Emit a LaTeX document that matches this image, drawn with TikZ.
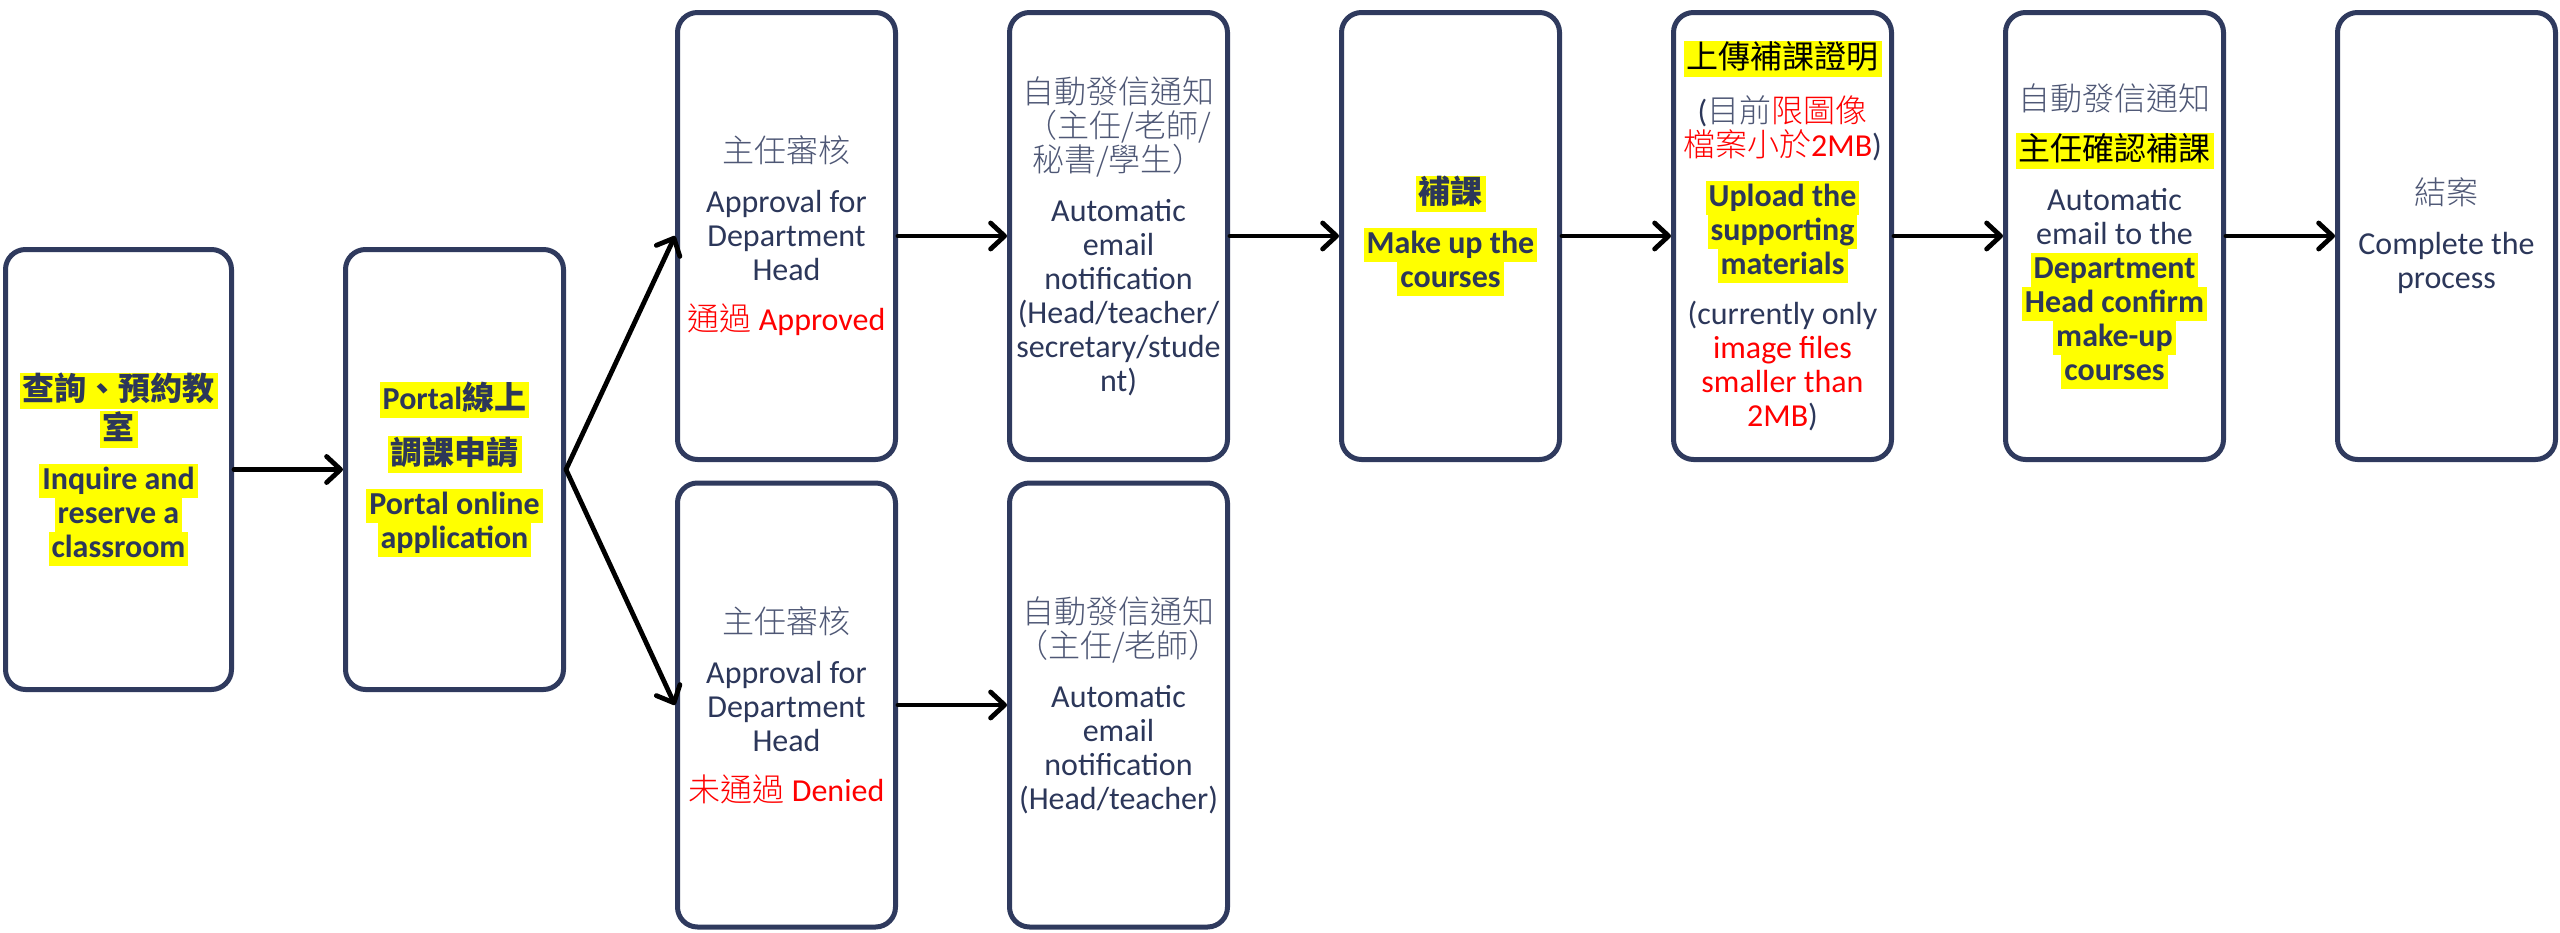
\documentclass[tikz,border=0pt]{standalone}
\usepackage{fontspec}
\setmainfont{Carlito}
\newfontfamily\cjk{Noto Sans CJK TC}
\newfontfamily\cjklt{Noto Sans CJK TC Light}
\usetikzlibrary{arrows.meta}

\definecolor{boxnavy}{RGB}{47,58,94}
\definecolor{txtnavy}{RGB}{44,55,90}
\definecolor{zhgray}{RGB}{78,87,117}
\definecolor{hlyellow}{RGB}{255,255,0}
\definecolor{zhred}{RGB}{255,0,0}

\newcommand{\hl}[1]{{\setlength{\fboxsep}{0pt}\colorbox{hlyellow}{\rule[-4.3pt]{0pt}{17pt}\kern1.5pt#1\kern1.5pt}}}
\newcommand{\hlb}[1]{\hl{\bfseries #1}}
\newcommand{\zh}[1]{{\cjklt #1}}
\newcommand{\zhm}[1]{{\cjk #1}}
\newcommand{\zhb}[1]{{\cjk\bfseries #1}}
\newcommand{\zhg}[1]{{\cjklt\color{zhgray}#1}}

\tikzset{
  stepbox/.style={draw=boxnavy, line width=2.5pt, rounded corners=10pt, fill=white,
    minimum width=109pt, minimum height=223.5pt, inner sep=1pt, align=center,
    text=txtnavy, font=\fontsize{16pt}{17pt}\selectfont},
  flow/.style={draw=black, line width=2.4pt, line cap=round,
    -{Straight Barb[length=7pt,width=13pt,round]}}
}

\begin{document}
\begin{tikzpicture}[x=0.5pt, y=-0.5pt]
			%%%%% START %%%%%
			\useasboundingbox (0,0) rectangle (2560,932);
			
			\node[stepbox, minimum width=113pt, minimum height=220pt] (inq) at (118.5,469.5)
				{\hl{\zhb{查詢、預約教}}\\\hl{\zhb{室}}\\[8pt]
				 \hlb{Inquire and}\\\hlb{reserve a}\\\hlb{classroom}};
			\node[stepbox, minimum height=220pt] (portal) at (454.5,469.5)
				{\hl{\bfseries Portal\zhb{線上}}\\[8pt]\hl{\zhb{調課申請}}\\[8pt]
				 \hlb{Portal online}\\\hlb{application}};
			
			\node[stepbox] (headok) at (786.5,236)
				{\zhg{主任審核}\\[8pt]Approval for\\Department\\Head\\[8pt]
				 \textcolor{zhred}{\zh{通過} Approved}};
			\node[stepbox] (mailall) at (1118.5,236)
				{\zhg{自動發信通知}\\\zhg{（主任/老師/}\\\zhg{秘書/學生）}\\[8pt]
				 Automatic\\email\\notification\\(Head/teacher/\\secretary/stude\\nt)};
			\node[stepbox] (makeup) at (1450.5,236)
				{\hl{\zhb{補課}}\\[8pt]\hlb{Make up the}\\\hlb{courses}};
			\node[stepbox] (upload) at (1782.5,236)
				{\hl{\color{black}\zhm{上傳補課證明}}\\[8pt]
				 (\zhg{目前}\textcolor{zhred}{\zh{限圖像}}\\
				 \textcolor{zhred}{\zh{檔案小於}2MB})\\[8pt]
				 \hlb{Upload the}\\\hlb{supporting}\\\hlb{materials}\\[8pt]
				 (currently only\\\textcolor{zhred}{image files}\\
				 \textcolor{zhred}{smaller than}\\\textcolor{zhred}{2MB})};
			\node[stepbox] (mailhead) at (2114.5,236)
				{\zhg{自動發信通知}\\[8pt]\hl{\color{black}\zhm{主任確認補課}}\\[8pt]
				 Automatic\\email to the\\\hlb{Department}\\\hlb{Head confirm}\\
				 \hlb{make-up}\\\hlb{courses}};
			\node[stepbox] (close) at (2446.5,236)
				{\zhg{結案}\\[8pt]Complete the\\process};
			
			\node[stepbox, minimum height=222pt] (headno) at (786.5,705)
				{\zhg{主任審核}\\[8pt]Approval for\\Department\\Head\\[8pt]
				 \textcolor{zhred}{\zh{未通過} Denied}};
			\node[stepbox, minimum height=222pt] (mailtwo) at (1118.5,705)
				{\zhg{自動發信通知}\\\zhg{（主任/老師）}\\[8pt]
				 Automatic\\email\\notification\\(Head/teacher)};
			
			\draw[flow] (inq.east) -- (portal.west);
			\draw[flow] (portal.east) -- (headok.west);
			\draw[flow] (portal.east) -- (headno.west);
			\draw[flow] (headok.east) -- (mailall.west);
			\draw[flow] (mailall.east) -- (makeup.west);
			\draw[flow] (makeup.east) -- (upload.west);
			\draw[flow] (upload.east) -- (mailhead.west);
			\draw[flow] (mailhead.east) -- (close.west);
			\draw[flow] (headno.east) -- (mailtwo.west);
			
			%%%%% END %%%%%
\end{tikzpicture}
\end{document}
